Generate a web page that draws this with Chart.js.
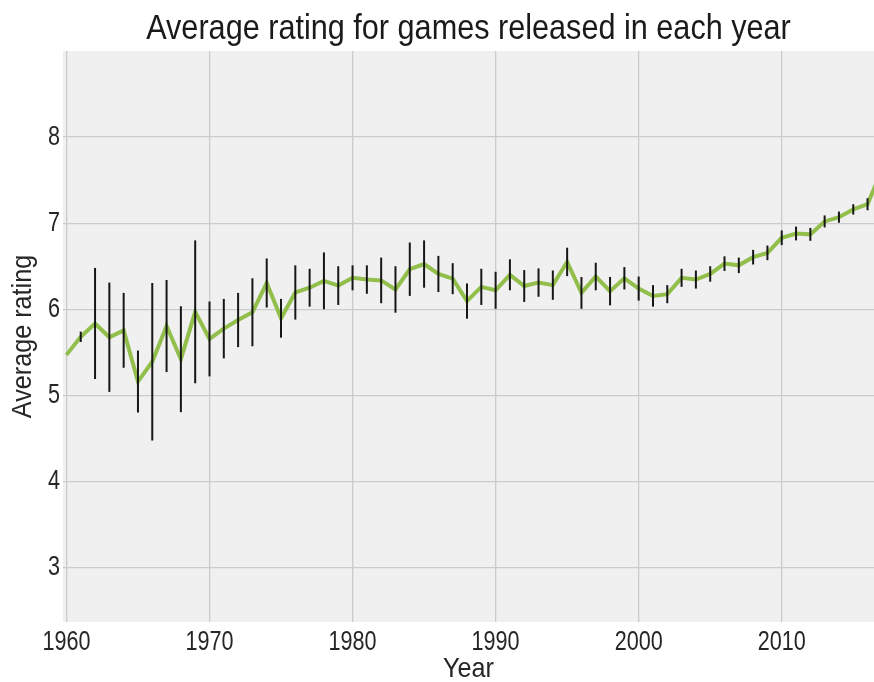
<!DOCTYPE html>
<html>
<head>
<meta charset="utf-8">
<script src="https://cdn.jsdelivr.net/npm/chart.js@4/dist/chart.umd.min.js"></script>
<style>
  html, body { margin: 0; padding: 0; background: #ffffff; }
  #wrap { width: 874px; height: 682px; }
</style>
</head>
<body>
<div id="wrap"><canvas id="chart" width="874" height="682"></canvas></div>
<script>
// Release years covered by the dataset
const years = [
  1960, 1961, 1962, 1963, 1964, 1965, 1966, 1967, 1968, 1969,
  1970, 1971, 1972, 1973, 1974, 1975, 1976, 1977, 1978, 1979,
  1980, 1981, 1982, 1983, 1984, 1985, 1986, 1987, 1988, 1989,
  1990, 1991, 1992, 1993, 1994, 1995, 1996, 1997, 1998, 1999,
  2000, 2001, 2002, 2003, 2004, 2005, 2006, 2007, 2008, 2009,
  2010, 2011, 2012, 2013, 2014, 2015, 2016, 2017
];

// Mean rating of the games released in each year
const meanRating = [
  5.47, 5.68, 5.835, 5.675, 5.755, 5.16, 5.39, 5.805, 5.42, 5.97,
  5.655, 5.775, 5.875, 5.965, 6.305, 5.895, 6.195, 6.25, 6.33, 6.275,
  6.365, 6.345, 6.335, 6.23, 6.465, 6.525, 6.41, 6.355, 6.095, 6.26,
  6.22, 6.40, 6.27, 6.31, 6.28, 6.55, 6.19, 6.38, 6.21, 6.36,
  6.24, 6.155, 6.175, 6.365, 6.345, 6.41, 6.53, 6.51, 6.605, 6.655,
  6.83, 6.88, 6.87, 7.02, 7.07, 7.16, 7.22, 7.62
];

// Spread (one standard deviation) around each yearly mean
const ratingSpread = [
  null, 0.06, 0.645, 0.635, 0.435, 0.36, 0.915, 0.535, 0.615, 0.83,
  0.435, 0.345, 0.315, 0.395, 0.285, 0.225, 0.315, 0.22, 0.33, 0.225,
  0.145, 0.165, 0.265, 0.27, 0.31, 0.275, 0.21, 0.18, 0.205, 0.21,
  0.215, 0.18, 0.185, 0.165, 0.17, 0.165, 0.185, 0.16, 0.165, 0.13,
  0.14, 0.125, 0.105, 0.105, 0.105, 0.09, 0.085, 0.09, 0.085, 0.085,
  0.085, 0.08, 0.075, 0.07, 0.065, 0.06, 0.07, 0.1
];

// Axis tick positions
const yearTicks = [1960, 1970, 1980, 1990, 2000, 2010];
const ratingTicks = [3, 4, 5, 6, 7, 8];

const FONT = '"Liberation Sans", Arial, sans-serif';
const TEXT = '#262626';

// Narrow lettering: horizontal squeeze per font size
const TITLE_SIZE = 35, TICK_SIZE = 27, LABEL_SIZE = 28;
const SQUEEZE = { 35: 0.875, 27: 0.8, 28: 0.9 };

const narrowText = {
  id: 'narrowText',
  beforeInit(chart) {
    const ctx = chart.ctx;
    const base = ctx.fillText.bind(ctx);
    ctx.fillText = function (text, x, y, maxWidth) {
      const m = /(\d+(?:\.\d+)?)px/.exec(ctx.font);
      const f = m ? (SQUEEZE[parseFloat(m[1])] || 1) : 1;
      if (f === 1) {
        return maxWidth === undefined ? base(text, x, y) : base(text, x, y, maxWidth);
      }
      ctx.save();
      ctx.translate(x, y);
      ctx.scale(f, 1);
      base(text, 0, 0);
      ctx.restore();
    };
  }
};

// Light grey panel behind the plotting area
const panelBackground = {
  id: 'panelBackground',
  beforeDraw(chart) {
    const { ctx, chartArea: a } = chart;
    ctx.save();
    ctx.fillStyle = '#f0f0f0';
    ctx.fillRect(a.left, a.top, a.right - a.left, a.bottom - a.top);
    ctx.restore();
  }
};

// Vertical error bars (mean ± spread) drawn through the scales
const errorBars = {
  id: 'errorBars',
  afterDatasetsDraw(chart) {
    const { ctx, chartArea: a, scales } = chart;
    ctx.save();
    ctx.beginPath();
    ctx.rect(a.left, a.top, a.right - a.left, a.bottom - a.top);
    ctx.clip();
    ctx.strokeStyle = '#161616';
    ctx.lineWidth = 2;
    years.forEach((yr, i) => {
      const s = ratingSpread[i];
      if (s == null) return;
      const x = scales.x.getPixelForValue(yr);
      const y0 = scales.y.getPixelForValue(meanRating[i] - s);
      const y1 = scales.y.getPixelForValue(meanRating[i] + s);
      ctx.beginPath();
      ctx.moveTo(x, y0);
      ctx.lineTo(x, y1);
      ctx.stroke();
    });
    ctx.restore();
  }
};

new Chart(document.getElementById('chart'), {
  type: 'line',
  data: {
    datasets: [{
      data: years.map((yr, i) => ({ x: yr, y: meanRating[i] })),
      borderColor: '#92be4c',
      borderWidth: 4,
      pointRadius: 0,
      tension: 0,
      fill: false
    }]
  },
  options: {
    responsive: false,
    animation: false,
    layout: { padding: { left: 0, right: 0, top: 0, bottom: 0 } },
    plugins: {
      legend: { display: false },
      tooltip: { enabled: false },
      title: {
        display: true,
        fullSize: false,
        text: 'Average rating for games released in each year',
        color: '#1a1a1a',
        font: { family: FONT, size: TITLE_SIZE, weight: 'normal', lineHeight: 1.2 },
        padding: { top: 8, bottom: 1 }
      }
    },
    scales: {
      x: {
        type: 'linear',
        min: 1959.76,
        max: 2016.45,
        afterBuildTicks(scale) { scale.ticks = yearTicks.map(v => ({ value: v })); },
        afterFit(scale) { scale.height = 60; },
        border: { display: false },
        grid: { color: '#cbcbcb', lineWidth: 1.3, drawTicks: false },
        ticks: {
          color: TEXT,
          padding: 4,
          maxRotation: 0,
          font: { family: FONT, size: TICK_SIZE },
          callback: v => String(v)
        },
        title: {
          display: true,
          text: 'Year',
          color: TEXT,
          font: { family: FONT, size: LABEL_SIZE, lineHeight: 0.88 },
          padding: { top: 0, bottom: 0 }
        }
      },
      y: {
        min: 2.367,
        max: 9.0,
        afterBuildTicks(scale) { scale.ticks = ratingTicks.map(v => ({ value: v })); },
        afterFit(scale) { scale.width = 63; },
        border: { display: false },
        grid: { color: '#cbcbcb', lineWidth: 1.3, drawTicks: false },
        ticks: {
          color: TEXT,
          padding: 3,
          font: { family: FONT, size: TICK_SIZE },
          callback: v => String(v)
        },
        title: {
          display: true,
          text: 'Average rating',
          color: TEXT,
          font: { family: FONT, size: LABEL_SIZE },
          padding: { top: 6, bottom: 0 }
        }
      }
    }
  },
  plugins: [narrowText, panelBackground, errorBars]
});
</script>
</body>
</html>
